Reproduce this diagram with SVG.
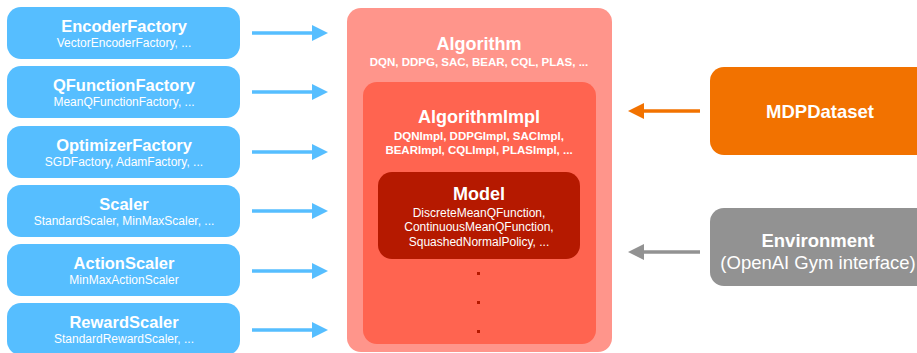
<svg xmlns="http://www.w3.org/2000/svg" width="917" height="353" viewBox="0 0 917 353">
<defs>
<style>
.t{font-family:"Liberation Sans",Arial,sans-serif;fill:#fff;text-anchor:middle}
.b{font-weight:bold}
.blue{fill:#56BEFF}
.al{stroke:#56BEFF;stroke-width:3.5;fill:none}
.ah{fill:#56BEFF}
</style>
</defs>
<rect width="917" height="353" fill="#fff"/>
<g id="encoderfactory"><rect class="blue" x="7" y="7" width="233" height="52" rx="14"/><text class="t b" x="124" y="32" font-size="16.5">EncoderFactory</text><text class="t" x="124" y="47" font-size="12">VectorEncoderFactory, ...</text></g>
<g id="qfunctionfactory"><rect class="blue" x="7" y="66" width="233" height="52" rx="14"/><text class="t b" x="124" y="91" font-size="16.5">QFunctionFactory</text><text class="t" x="124" y="106" font-size="12">MeanQFunctionFactory, ...</text></g>
<g id="optimizerfactory"><rect class="blue" x="7" y="126" width="233" height="52" rx="14"/><text class="t b" x="124" y="151" font-size="16.5">OptimizerFactory</text><text class="t" x="124" y="166" font-size="12">SGDFactory, AdamFactory, ...</text></g>
<g id="scaler"><rect class="blue" x="7" y="185" width="233" height="52" rx="14"/><text class="t b" x="124" y="210" font-size="16.5">Scaler</text><text class="t" x="124" y="225" font-size="12">StandardScaler, MinMaxScaler, ...</text></g>
<g id="actionscaler"><rect class="blue" x="7" y="244" width="233" height="52" rx="14"/><text class="t b" x="124" y="269" font-size="16.5">ActionScaler</text><text class="t" x="124" y="284" font-size="12">MinMaxActionScaler</text></g>
<g id="rewardscaler"><rect class="blue" x="7" y="303" width="233" height="52" rx="14"/><text class="t b" x="124" y="328" font-size="16.5">RewardScaler</text><text class="t" x="124" y="343" font-size="12">StandardRewardScaler, ...</text></g>
<g id="algorithm"><rect x="347" y="8" width="265" height="344" rx="14" fill="#FF958B"/><text class="t b" x="479" y="50" font-size="18">Algorithm</text><text class="t b" x="479" y="66" font-size="11.5">DQN, DDPG, SAC, BEAR, CQL, PLAS, ...</text></g>
<g id="algorithmimpl"><rect x="363" y="82" width="233" height="262" rx="14" fill="#FF6450"/><text class="t b" x="479" y="123" font-size="18">AlgorithmImpl</text><text class="t b" x="479" y="140" font-size="11.5">DQNImpl, DDPGImpl, SACImpl,</text><text class="t b" x="479" y="154" font-size="11.5">BEARImpl, CQLImpl, PLASImpl, ...</text></g>
<g id="model"><rect x="378" y="172" width="202" height="87" rx="14" fill="#B51900"/><text class="t b" x="479" y="200" font-size="18">Model</text><text class="t" x="479" y="217" font-size="12">DiscreteMeanQFunction,</text><text class="t" x="479" y="231" font-size="12">ContinuousMeanQFunction,</text><text class="t" x="479" y="246" font-size="12">SquashedNormalPolicy, ...</text></g>
<g id="ellipsis" fill="#B51900"><rect x="477" y="272" width="3" height="3"/><rect x="477" y="301" width="3" height="3"/><rect x="477" y="330" width="3" height="3"/></g>
<g id="mdpdataset"><rect x="710" y="67" width="230" height="88" rx="14" fill="#F27200"/><text class="t b" x="820" y="118" font-size="18.5">MDPDataset</text></g>
<g id="environment"><rect x="710" y="208" width="230" height="78" rx="14" fill="#929292"/><text class="t b" x="818" y="247" font-size="18.5">Environment</text><text class="t" x="818" y="269" font-size="18.5">(OpenAI Gym interface)</text></g>
<g id="connectors">
<g><line class="al" x1="252" y1="33" x2="314" y2="33"/><polygon class="ah" points="312,25 328,33 312,41"/></g>
<g><line class="al" x1="252" y1="92" x2="314" y2="92"/><polygon class="ah" points="312,84 328,92 312,100"/></g>
<g><line class="al" x1="252" y1="152" x2="314" y2="152"/><polygon class="ah" points="312,144 328,152 312,160"/></g>
<g><line class="al" x1="252" y1="211" x2="314" y2="211"/><polygon class="ah" points="312,203 328,211 312,219"/></g>
<g><line class="al" x1="252" y1="271" x2="314" y2="271"/><polygon class="ah" points="312,263 328,271 312,279"/></g>
<g><line class="al" x1="252" y1="330" x2="314" y2="330"/><polygon class="ah" points="312,322 328,330 312,338"/></g>
<g><line x1="700" y1="111" x2="641" y2="111" stroke="#F27200" stroke-width="3.5"/><polygon points="644,103 628,111 644,119" fill="#F27200"/></g>
<g><line x1="700" y1="252" x2="641" y2="252" stroke="#929292" stroke-width="3.5"/><polygon points="644,244 628,252 644,260" fill="#929292"/></g>
</g>
</svg>
